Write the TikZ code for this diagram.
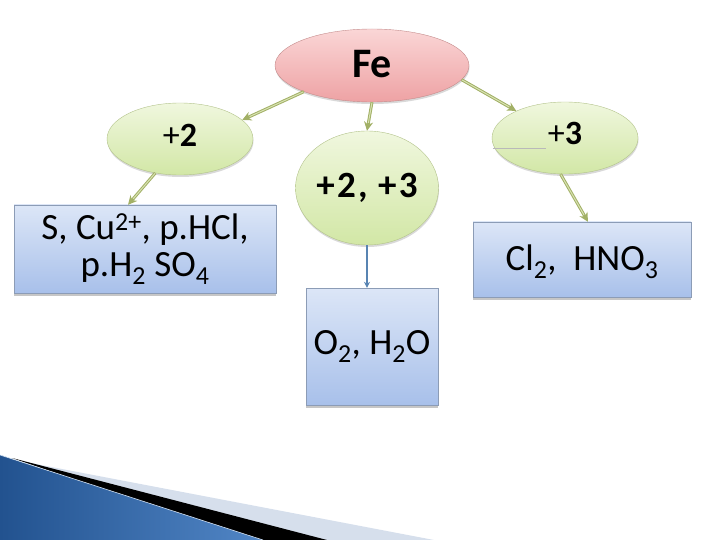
\documentclass[tikz,border=0pt]{standalone}
\usepackage{fontspec}
\setmainfont{Carlito}
\usetikzlibrary{shapes.geometric,arrows.meta,shadows,calc}
\definecolor{fetop}{HTML}{FAD6D6}
\definecolor{febot}{HTML}{EEA2A4}
\definecolor{fedraw}{HTML}{C48C8C}
\definecolor{grtop}{HTML}{F0F7DE}
\definecolor{grbot}{HTML}{D2E7A6}
\definecolor{grdraw}{HTML}{B2C28A}
\definecolor{bxtop}{HTML}{DCE6F7}
\definecolor{bxbot}{HTML}{A8C0EA}
\definecolor{bxdraw}{HTML}{8C9CB6}
\definecolor{olivedark}{HTML}{A2B066}
\definecolor{olivelight}{HTML}{D8E2B2}
\definecolor{steel}{HTML}{5884B2}
\definecolor{bandlight}{HTML}{D6DFEC}
\definecolor{bluedark}{HTML}{22528F}
\definecolor{bluelight}{HTML}{5186C6}
\newcommand{\liftup}[2]{\raisebox{#1}[\height][\depth]{#2}}
\begin{document}
\begin{tikzpicture}[x=1pt,y=-1pt,
  ellbase/.style={ellipse, inner sep=0pt,
    drop shadow={shadow xshift=0.5pt, shadow yshift=-2pt, opacity=0.3}},
  pinkell/.style={ellbase, draw=fedraw, top color=fetop, bottom color=febot},
  greenell/.style={ellbase, draw=grdraw, top color=grtop, bottom color=grbot},
  bluebox/.style={rectangle, draw=bxdraw, top color=bxtop, bottom color=bxbot, inner sep=0pt,
    align=center, font=\fontsize{37}{37}\selectfont,
    drop shadow={shadow xshift=0pt, shadow yshift=-3pt, opacity=0.45}},
  olivearrow/.style={draw=olivedark, line width=3pt, -{Stealth[length=9pt,width=9pt]},
    postaction={draw=olivelight, line width=1pt, -{}, shorten >=8pt, shorten <=0.5pt}},
  steelarrow/.style={draw=steel, line width=1.4pt, -{Stealth[length=6pt,width=6pt]}},
  ]
\useasboundingbox (0,0) rectangle (720,540);
% bottom-left decoration
\fill[bandlight] (20,461) -- (434,540) -- (320,540) -- cycle;
\fill[black] (12,458) -- (327,540) -- (250,540) -- cycle;
\shade[left color=bluedark, right color=bluelight] (0,455) -- (263,540) -- (0,540) -- cycle;
\draw[white!75!bluelight, line width=0.6pt] (0,455) -- (263,540);
% nodes
\node[pinkell, minimum width=194pt, minimum height=73pt,
  font=\fontsize{42}{42}\selectfont\bfseries] (fe) at (372,65.5) {\liftup{1pt}{Fe}};
\node[greenell, minimum width=146pt, minimum height=72pt,
  font=\fontsize{34}{34}\selectfont] (p2) at (180,139) {\liftup{4pt}{+\textbf{2}}};
\node[greenell, minimum width=146pt, minimum height=72pt,
  font=\fontsize{34}{34}\selectfont] (p3) at (565,138) {\liftup{5pt}{+\textbf{3}}};
\node[greenell, minimum width=134pt, minimum height=114pt,
  font=\fontsize{37}{37}\selectfont\addfontfeature{LetterSpace=6}\bfseries] (mid) at (367,188) {+2, +3};
\node[bluebox, minimum width=262pt, minimum height=88pt] (lbox) at (145,249)
  {S, Cu\textsuperscript{2+}, p.HCl,\\p.H\textsubscript{2} SO\textsubscript{4}};
\node[bluebox, minimum width=218pt, minimum height=75pt] (rbox) at (582,259.5)
  {\liftup{-2pt}{Cl\textsubscript{2},\ \ HNO\textsubscript{3}}};
\node[bluebox, minimum width=132pt, minimum height=117pt] (mbox) at (372,346.5)
  {O\textsubscript{2}, H\textsubscript{2}O};
% small stray line inside +3 ellipse
\draw[gray!55, line width=0.6pt] ($(p3.west)+(1,10)$) -- ++(53,0);
% connectors
\draw[olivearrow] (fe.201) -- (p2.17);
\draw[olivearrow] (fe.-9) -- (p3.151);
\draw[olivearrow] (fe.south) -- (mid.north);
\draw[olivearrow] (p2.234) -- (lbox.111);
\draw[olivearrow] (p3.263) -- (rbox.81);
\draw[steelarrow] (mid.south) -- (mid.south |- mbox.north);
\end{tikzpicture}
\end{document}
